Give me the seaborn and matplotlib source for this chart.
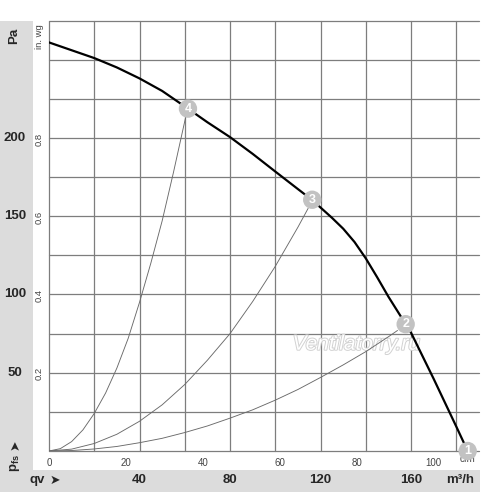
import numpy as np
import pandas as pd
import seaborn as sns
import matplotlib.pyplot as plt
from matplotlib.patches import Rectangle
from matplotlib.transforms import blended_transform_factory
import matplotlib.patheffects as pe

# ---------------- data ----------------
# fan curve: flow in m3/h, static pressure in Pa
fan_q = [0, 10, 20, 30, 40, 50, 61.4, 70, 80, 90, 100, 110, 116.3, 120, 125, 130, 135, 140, 145,
         150, 155, 157.6, 160, 170, 180, 185]
fan_p = [261, 256, 251, 245, 238, 230, 218.7, 210, 200.5, 189.8, 178.5, 167.3, 160.3, 155.5, 149,
         142, 133.5, 123, 111, 98.5, 87, 81, 75.5, 46, 15.5, 0]

# system (resistance) curves through the operating points
sys4_q = [0, 5, 10, 15, 20, 25, 30, 35, 40, 45, 50, 55, 60.5]
sys4_p = [0, 1.5, 6, 13.5, 24, 37, 53, 72, 95, 120, 147, 178, 214]
sys3_q = [0, 10, 20, 30, 40, 50, 60, 70, 80, 90, 100, 110, 114.5]
sys3_p = [0, 1.2, 4.8, 10.7, 19, 29.5, 42.5, 58, 75, 95.5, 118, 143, 155]
sys2_q = [0, 10, 20, 30, 40, 50, 60, 70, 80, 90, 100, 110, 120, 130, 140, 150, 154]
sys2_p = [0, 0.3, 1.3, 2.9, 5.3, 8.1, 11.8, 16, 21, 26.3, 32.5, 39.3, 47, 55, 63.5, 73, 77]

# numbered operating points
pt_labels = ["1", "2", "3", "4"]
pt_q = [185, 157.6, 116.3, 61.4]
pt_p = [0, 81, 160.5, 218.7]

# tick labels
m3h_ticks = [40, 80, 120, 160]
pa_ticks = [50, 100, 150, 200]
cfm_ticks = [0, 20, 40, 60, 80, 100]
inwg_ticks = [0.2, 0.4, 0.6, 0.8]

CFM_PER_M3H = 0.5886
PA_PER_INWG = 249.09

# ---------------- figure ----------------
sns.set_style("white")
plt.rcParams['font.family'] = ['Liberation Sans', 'DejaVu Sans']
plt.rcParams['mathtext.fontset'] = 'custom'
plt.rcParams['mathtext.bf'] = 'Liberation Sans:bold'
plt.rcParams['mathtext.rm'] = 'Liberation Sans'

W, H = 500, 492
fig = plt.figure(figsize=(W / 100, H / 100), dpi=100)
fig.patch.set_facecolor('white')

# grey L-shaped band (behind everything)
fig.patches.append(Rectangle((0, 0), 33 / W, (H - 20.5) / H, transform=fig.transFigure,
                             facecolor='#dcdcdc', edgecolor='none', zorder=-5))
fig.patches.append(Rectangle((0, 0), 480 / W, 22 / H, transform=fig.transFigure,
                             facecolor='#dcdcdc', edgecolor='none', zorder=-5))

ax = fig.add_axes([49 / W, 41 / H, 430 / W, 430.5 / H])
ax.set_facecolor('white')
ax.set_xlim(0, 190)
ax.set_ylim(0, 275)
for s in ax.spines.values():
    s.set_visible(False)

# grid
ax.xaxis.remove_overlapping_locs = False
ax.yaxis.remove_overlapping_locs = False
ax.set_xticks(np.arange(0, 181, 20))
ax.set_yticks(np.arange(0, 276, 25))
ax.grid(True, color='#7d7d7d', lw=0.9)
for gl in ax.get_xgridlines() + ax.get_ygridlines():
    gl.set_clip_on(False)
ax.tick_params(which='major', length=0, labelbottom=False, labelleft=False)
ax.set_axisbelow(True)

# cfm ticks (minor x) and in. wg ticks (minor y)
ax.set_xticks([c / CFM_PER_M3H for c in cfm_ticks], [str(c) for c in cfm_ticks], minor=True)
ax.tick_params(axis='x', which='minor', length=3, width=0.8, color='#666666', direction='out',
               labelsize=7, labelcolor='#444444', pad=2)
ax.set_yticks([v * PA_PER_INWG for v in inwg_ticks], [str(v) for v in inwg_ticks], minor=True)
ax.tick_params(axis='y', which='minor', length=0, labelsize=6.8, labelcolor='#444444', pad=4)
for lab in ax.get_yticklabels(minor=True):
    lab.set_rotation(90)
    lab.set_va('center')

# system curves
for q, p in [(sys4_q, sys4_p), (sys3_q, sys3_p), (sys2_q, sys2_p)]:
    sns.lineplot(x=q, y=p, ax=ax, color='#6a6a6a', lw=0.65, sort=False, estimator=None, zorder=3)

# fan curve
sns.lineplot(x=fan_q, y=fan_p, ax=ax, color='black', lw=1.6, sort=False, estimator=None, zorder=4)

# cfm unit label (under the marker, as in the original)
ax.text(468 / W, 1 - 459 / H, "cfm", transform=fig.transFigure, fontsize=7, color='#444444',
        ha='center', va='center', zorder=1, clip_on=False)

# operating points
sns.scatterplot(x=pt_q, y=pt_p, ax=ax, s=175, color='#c2c2c2', edgecolor='none', zorder=6,
                clip_on=False, legend=False)
for lab, q, p in zip(pt_labels, pt_q, pt_p):
    ax.text(q, p, lab, color='white', fontsize=9, fontweight='bold', ha='center', va='center',
            zorder=7, clip_on=False)

# watermark
ax.text(0.715, 0.248, "Ventilatorry.ru", transform=ax.transAxes, fontsize=15, style='italic',
        color='white', ha='center', va='center', zorder=2,
        path_effects=[pe.withStroke(linewidth=1.4, foreground='#d2d2d2')])

# in. wg unit label
fig.text(40 / W, 1 - 37 / H, "in. wg", rotation=90, fontsize=6.8, color='#444444',
         ha='center', va='center')

# Pa labels on the grey band
ty = blended_transform_factory(fig.transFigure, ax.transData)
for v in pa_ticks:
    ax.text(15 / W, v, str(v), transform=ty, fontsize=9.5, fontweight='bold', ha='center',
            va='center', clip_on=False)
fig.text(14 / W, 1 - 36 / H, "Pa", rotation=90, fontsize=9.5, fontweight='bold',
         ha='center', va='center')
fig.text(15 / W, 1 - 463 / H, r"$\mathbf{p_{fs}}$", rotation=90, fontsize=9.5,
         ha='center', va='center')
fig.text(15 / W, 1 - 445 / H, "➤", rotation=90, fontsize=9, family=['DejaVu Sans'],
         ha='center', va='center')

# m3/h labels on the bottom band
tx = blended_transform_factory(ax.transData, fig.transFigure)
for v in m3h_ticks:
    ax.text(v, 1 - 480 / H, str(v), transform=tx, fontsize=9.5, fontweight='bold',
            ha='center', va='center', clip_on=False)
fig.text(460 / W, 1 - 480 / H, "m³/h", fontsize=9.5, fontweight='bold', ha='center', va='center')
fig.text(37 / W, 1 - 480 / H, "qv", fontsize=9.5, fontweight='bold', ha='center', va='center')
fig.text(55 / W, 1 - 480 / H, "➤", fontsize=9, family=['DejaVu Sans'], ha='center',
         va='center')

fig.savefig("out.png", dpi=100)
